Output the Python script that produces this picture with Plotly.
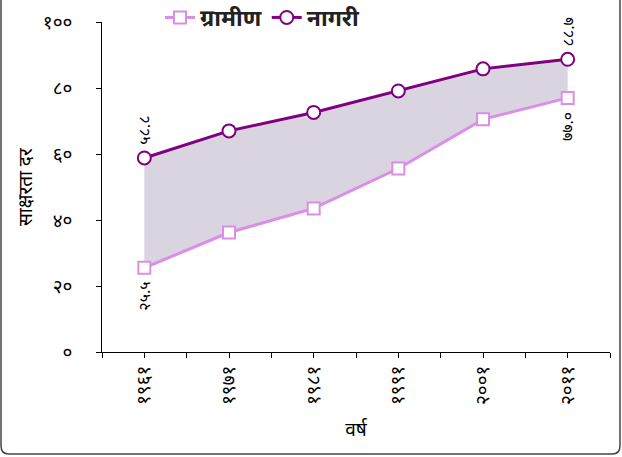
import plotly.graph_objects as go

years = [1961, 1971, 1981, 1991, 2001, 2011]
rural = [25.5, 36.2, 43.5, 55.6, 70.5, 77.0]
urban = [58.8, 67.0, 72.6, 79.1, 85.8, 88.7]
rural_name = "ग्रामीण"
urban_name = "नागरी"
x_title = "वर्ष"
y_title = "साक्षरता दर"
y_ticks = [0, 20, 40, 60, 80, 100]
minor_years = [1956, 1966, 1976, 1986, 1996, 2006, 2016]

DEV = str.maketrans("0123456789", "०१२३४५६७८९")
def dev(v):
    return str(v).translate(DEV)

FONT = "Noto Sans, Noto Sans Devanagari, sans-serif"
C_URB = "#800080"
C_RUR = "#D98FE8"
C_FILL = "#DAD3E0"

fig = go.Figure()
# shaded band
fig.add_trace(go.Scatter(x=years, y=rural, mode="lines", line=dict(width=0),
                         showlegend=False, hoverinfo="skip"))
fig.add_trace(go.Scatter(x=years, y=urban, mode="lines", line=dict(width=0),
                         fill="tonexty", fillcolor=C_FILL, showlegend=False, hoverinfo="skip"))
fig.add_trace(go.Scatter(x=years, y=rural, mode="lines+markers", name=rural_name,
                         line=dict(color=C_RUR, width=3),
                         marker=dict(symbol="square", size=12, color="white",
                                     line=dict(color=C_RUR, width=2))))
fig.add_trace(go.Scatter(x=years, y=urban, mode="lines+markers", name=urban_name,
                         line=dict(color=C_URB, width=3),
                         marker=dict(symbol="circle", size=13, color="white",
                                     line=dict(color=C_URB, width=2))))

ann = []
for i in (0, len(years) - 1):
    ann.append(dict(x=years[i], y=urban[i], text=dev(urban[i]), textangle=-90,
                    showarrow=False, yanchor="bottom", yshift=11,
                    font=dict(size=16, color="black", family=FONT)))
    ann.append(dict(x=years[i], y=rural[i], text=dev(rural[i]), textangle=-90,
                    showarrow=False, yanchor="top", yshift=-12,
                    font=dict(size=16, color="black", family=FONT)))

tickvals = sorted(years + minor_years)
ticktext = [dev(v) if v in years else "" for v in tickvals]

L, R, T, B = 102, 12, 22, 105
W, H = 622, 457
pw, ph = W - L - R, H - T - B
def px(xp): return (xp - L) / pw
def py(yp): return (H - B - yp) / ph

# y axis title placed as text to the left of the tick labels
ann.append(dict(x=px(25), y=0.5, xref="paper", yref="paper", text=y_title,
                textangle=-90, showarrow=False, xanchor="center", yanchor="middle",
                font=dict(size=19, color="black", family=FONT)))

x0, x1, y1, r = px(1), px(620), py(454), 8
path = (f"M {x0},{py(-5)} L {x0},{py(454 - r)} Q {x0},{y1} {px(1 + r)},{y1} "
        f"L {px(620 - r)},{y1} Q {x1},{y1} {x1},{py(454 - r)} L {x1},{py(-5)}")

pad = '<span style="color:rgba(0,0,0,0)">००</span>'

fig.update_layout(
    width=W, height=H,
    margin=dict(l=L, r=R, t=T, b=B, autoexpand=False),
    paper_bgcolor="white", plot_bgcolor="white",
    font=dict(family=FONT, color="black"),
    showlegend=True,
    legend=dict(orientation="h", x=px(160), y=py(-4), xanchor="left", yanchor="top",
                traceorder="normal",
                font=dict(size=23, color="#222222", weight="bold"),
                bgcolor="rgba(0,0,0,0)"),
    xaxis=dict(range=[1956, 2016], tickmode="array", tickvals=tickvals, ticktext=ticktext,
               tickangle=-90, ticks="outside", ticklen=5, tickcolor="black",
               showline=True, linecolor="black", linewidth=1, showgrid=False,
               zeroline=False, tickfont=dict(size=19), automargin=False,
               title=dict(text=x_title, font=dict(size=19), standoff=18)),
    yaxis=dict(range=[0, 100], tickmode="array", tickvals=y_ticks,
               ticktext=[dev(v) + pad for v in y_ticks],
               ticks="outside", ticklen=5, tickcolor="black",
               showline=True, linecolor="black", linewidth=1, showgrid=False,
               zeroline=False, tickfont=dict(size=19), automargin=False),
    annotations=ann,
    shapes=[dict(type="path", path=path, xref="paper", yref="paper",
                 line=dict(color="#444444", width=1.5), layer="above")],
)

fig.write_html("out.html", config={"displayModeBar": False},
               post_script="document.body.style.margin='0';document.body.style.overflow='hidden';")
